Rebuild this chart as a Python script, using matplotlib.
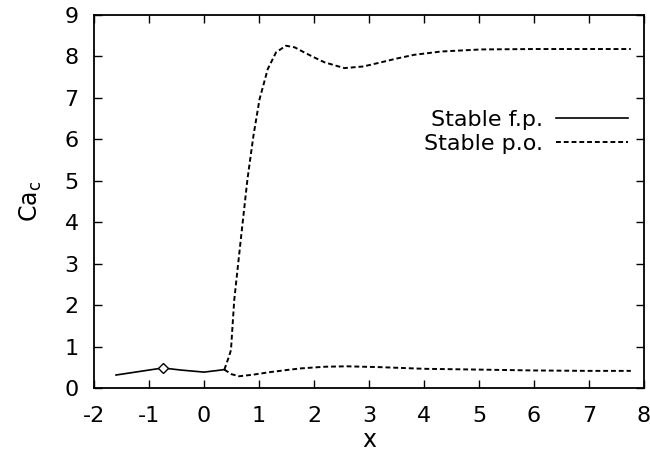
import matplotlib
matplotlib.use("Agg")
import matplotlib.pyplot as plt

plt.rcParams['font.family'] = ['DejaVu Sans']
plt.rcParams['mathtext.fontset'] = 'dejavusans'
plt.rcParams['axes.unicode_minus'] = False

# Stable fixed points (solid)
fp_x = [-1.6, -1.2, -0.75, -0.42, 0.0, 0.37]
fp_y = [0.32, 0.40, 0.49, 0.44, 0.39, 0.45]

# Marker point
mark_x = [-0.75]
mark_y = [0.49]

# Stable periodic orbits: upper branch (dashed)
po_up_x = [0.37, 0.45, 0.49, 0.55, 0.67, 0.79, 0.90, 1.01, 1.16, 1.31, 1.49, 1.65, 1.82, 2.0, 2.19, 2.55, 2.9, 3.22, 3.5, 3.82, 4.31, 5.04, 6.0, 7.0, 7.76]
po_up_y = [0.45, 0.75, 0.92, 2.13, 3.6, 5.04, 6.1, 6.97, 7.70, 8.10, 8.26, 8.22, 8.10, 7.98, 7.86, 7.72, 7.76, 7.86, 7.95, 8.04, 8.12, 8.17, 8.18, 8.18, 8.18]

# Stable periodic orbits: lower branch (dashed)
po_lo_x = [0.37, 0.5, 0.64, 0.9, 1.2, 1.5, 1.76, 2.2, 2.6, 3.2, 4.0, 5.04, 6.0, 7.0, 7.76]
po_lo_y = [0.45, 0.34, 0.29, 0.33, 0.39, 0.44, 0.48, 0.52, 0.53, 0.51, 0.47, 0.45, 0.43, 0.42, 0.42]

fig = plt.figure(figsize=(6.5, 4.55), dpi=100)
ax = fig.add_axes([0.1446, 0.1466, 0.8462, 0.8204])

l1, = ax.plot(fp_x, fp_y, color='black', lw=1.2, label='Stable f.p.')
l2, = ax.plot(po_up_x, po_up_y, color='black', lw=1.4, ls=(0, (2.5, 1.5)), label='Stable p.o.')
ax.plot(po_lo_x, po_lo_y, color='black', lw=1.4, ls=(0, (2.5, 1.5)))
ax.plot(mark_x, mark_y, marker='D', ms=5, mfc='white', mec='black', mew=1.0, ls='none')

ax.set_xlim(-2, 8)
ax.set_ylim(0, 9)
ax.set_xticks(range(-2, 9))
ax.set_yticks(range(0, 10))
ax.tick_params(direction='in', top=True, right=True, length=6, width=1, labelsize=16)
ax.tick_params(axis='x', pad=13)
ax.tick_params(axis='y', pad=11)
for s in ax.spines.values():
    s.set_linewidth(1.3)

ax.set_xlabel('x', fontsize=17, labelpad=1)
ax.set_ylabel(r'Ca$_\mathrm{c}$', fontsize=17, labelpad=15)

ax.legend(handles=[l1, l2], loc='upper right', bbox_to_anchor=(0.971, 0.745),
          frameon=False, markerfirst=False, fontsize=16, handlelength=3.25,
          handletextpad=0.6, labelspacing=0.18, borderpad=0, borderaxespad=0)

fig.savefig('out.png', dpi=100)
